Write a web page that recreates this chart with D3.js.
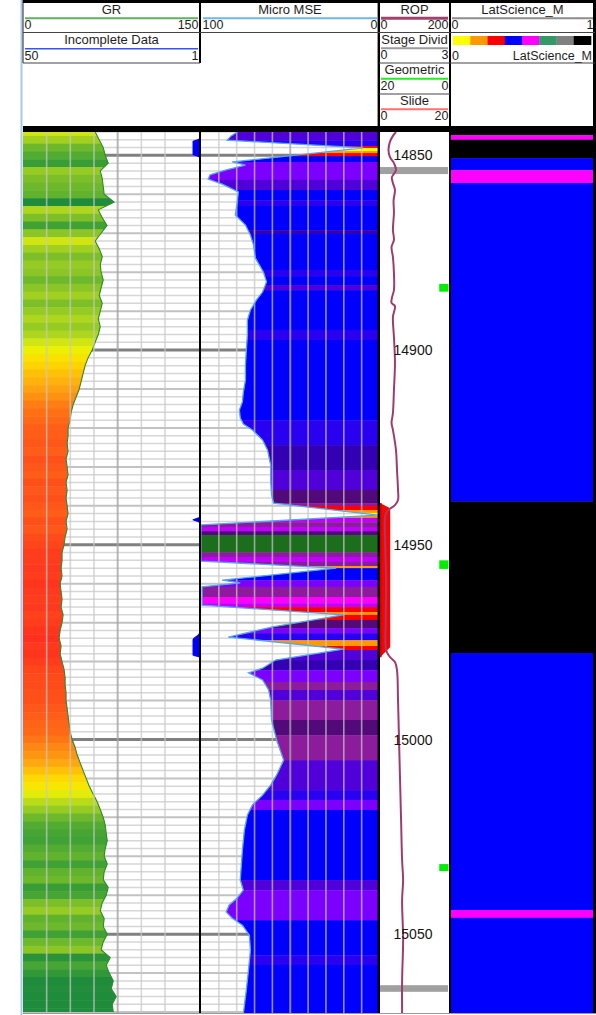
<!DOCTYPE html>
<html>
<head>
<meta charset="utf-8">
<script src="https://cdn.jsdelivr.net/npm/d3@7"></script>
<style>
  html, body { margin: 0; padding: 0; background: #fff; }
  svg { display: block; font-family: "Liberation Sans", Arial, sans-serif; }
</style>
</head>
<body>
<svg id="log" width="596" height="1015"></svg>
<script>
// ---------- depth window ----------
const depthTop = 14844;
const depthBase = 15070.5;
const depthLabels = [14850, 14900, 14950, 15000, 15050];

// ---------- GR (API), sampled every 2 ft from grStart ----------
const grStart = 14844;
const grStep = 2;
const grValues = [61, 64.4, 67.8, 69.5, 72, 65.3, 67, 67.8, 68.6, 77, 63.6, 67, 71, 66, 61, 64.4, 67, 65.3, 66, 67.8,
  66, 64.4, 67, 65.3, 63.6, 65.3, 63.6, 61, 58.5, 55, 52.5, 50.8, 49.2, 47.5, 45, 42.4, 40.7, 39.8, 38.1, 38.1,
  37.3, 38.1, 36.4, 37.3, 38.1, 36.4, 37.3, 36.4, 37.3, 38.1, 36.4, 37.3, 35.6, 34.7, 33, 33, 32.2, 33, 31.4, 32.2,
  33, 32.2, 33.9, 33, 31.4, 30.5, 32.2, 31.4, 33, 34.7, 35.6, 35.6, 36.4, 36.4, 37.3, 38.1, 39, 39.8, 41.5, 44,
  45.8, 48.3, 50.8, 53.4, 56, 59.3, 62.7, 65.3, 67.8, 69.5, 70.3, 71.2, 69.5, 68.6, 71.2, 68.6, 67.8, 72, 70.3, 66.9,
  65.3, 68.6, 67.8, 71.2, 67.8, 66, 73.7, 70.3, 72.9, 76.3, 74.6, 78.8, 75.4, 76.3];

// ---------- Incomplete Data flag ----------
const incDepth = [14844.0, 14845.6, 14846.4, 14849.8, 14850.6, 14942.8, 14943.6, 14944.4, 14972.6, 14974.4, 14978.4, 14979.0, 15070.5];
const incValue = [1, 1, 2.8, 2.8, 1, 1, 2.8, 1, 1, 2.8, 2.8, 1, 1];

// ---------- Micro MSE ----------
const mseDepth = [14844.0, 14845.0, 14846.1, 14848.1, 14851.7, 14852.5, 14853.8, 14855.0, 14856.1, 14857.4,
  14859.4, 14862.0, 14865.3, 14867.9, 14870.5, 14873.0, 14876.4, 14880.0, 14882.5, 14885.1,
  14887.1, 14889.7, 14892.3, 14896.1, 14899.9, 14903.8, 14907.7, 14910.8, 14913.3, 14915.4,
  14917.4, 14919.0, 14920.5, 14923.1, 14925.7, 14929.5, 14933.4, 14937.2, 14939.3, 14942.4,
  14944.9, 14954.2, 14956.0, 14959.1, 14959.8, 14960.8, 14965.5, 14968.0, 14971.1, 14973.7,
  14976.8, 14979.6, 14981.7, 14982.9, 14984.7, 14987.3, 14989.9, 14995.0, 15000.2, 15005.3,
  15009.1, 15011.7, 15014.3, 15016.8, 15019.4, 15023.3, 15028.4, 15032.2, 15036.1, 15038.7,
  15040.7, 15042.5, 15044.3, 15045.9, 15047.7, 15050.3, 15054.1, 15059.2, 15064.3, 15070.5];
const mseValue = [79.7, 83.1, 85.3, 9.0, 82.5, 75.1, 86.4, 94.9, 96.0, 88.1,
  79.1, 79.7, 80.8, 75.1, 72.3, 70.6, 69.5, 65.0, 63.3, 65.5,
  68.9, 72.3, 74.0, 74.0, 74.6, 75.1, 75.1, 76.3, 76.8, 78.5,
  78.0, 76.3, 71.2, 65.5, 62.7, 61.0, 61.0, 60.5, 59.3, 0.6,
  100, 100, 24.3, 88.1, 78.0, 99.4, 99.4, 20.3, 59.9, 84.7,
  20.3, 58.2, 65.5, 73.4, 65.5, 62.1, 61.0, 60.5, 57.6, 53.7,
  57.6, 61.0, 65.5, 71.2, 74.0, 75.7, 76.8, 77.4, 78.0, 76.3,
  79.7, 84.2, 85.9, 82.5, 76.8, 72.9, 72.3, 73.4, 74.6, 76.3];

// MSE colour classes by depth interval (top of each interval)
const mseBandTop = [14844.0, 14846.1, 14847.6, 14848.1, 14848.9, 14849.4, 14850.2, 14851.7, 14856.3, 14858.9,
  14861.5, 14863.0, 14869.2, 14870.2, 14879.4, 14881.0, 14883.3, 14884.6, 14894.8, 14897.4,
  14918.0, 14924.4, 14930.8, 14935.9, 14939.3, 14940.0, 14941.1, 14941.8, 14942.6, 14943.1,
  14944.2, 14945.4, 14946.5, 14947.5, 14951.9, 14953.1, 14954.4, 14955.5, 14956.0, 14959.1,
  14960.8, 14963.4, 14965.0, 14966.0, 14967.3, 14968.0, 14969.3, 14971.4, 14972.7, 14974.5,
  14976.0, 14977.0, 14979.6, 14982.2, 14985.2, 14987.3, 14989.9, 14995.0, 14998.9, 15005.3,
  15013.0, 15015.5, 15018.1, 15036.1, 15038.7, 15046.4, 15055.4, 15057.9];
const mseBandCode = ["I", "N", "R", "Y", "O", "R", "B", "V", "I", "B",
  "N", "B", "K", "B", "N", "B", "I", "B", "N", "B",
  "N", "K", "I", "D", "P", "R", "O", "Y", "O", "L",
  "P", "L", "D", "G", "P", "L", "P", "O", "B", "V",
  "P", "M", "L", "R", "O", "R", "D", "V", "N", "O",
  "R", "I", "K", "V", "P", "I", "P", "D", "P", "I",
  "N", "V", "B", "I", "V", "B", "N", "B"];
const mseClasses = ["B", "N", "I", "K", "V", "P", "L", "M", "R", "O", "Y", "G", "D"];

// ---------- ROP (ft/hr) ----------
const ropDepth = [14844.0, 14845.0, 14846.6, 14848.6, 14850.4, 14852.0, 14853.8, 14855.6, 14857.1, 14858.9,
  14861.5, 14864.8, 14869.2, 14871.7, 14873.5, 14876.1, 14880.2, 14884.6, 14886.6, 14887.9,
  14888.7, 14891.5, 14896.6, 14903.3, 14910.3, 14916.2, 14918.7, 14920.5, 14925.7, 14930.8,
  14935.9, 14938.5, 14939.8, 14941.1, 14942.4, 14948.8, 14959.1, 14969.3, 14977.0, 14978.8,
  14980.1, 14982.2, 14989.9, 15000.2, 15010.4, 15020.7, 15031.0, 15036.1, 15041.2, 15051.5,
  15061.8, 15070.5];
const ropValue = [47, 38, 29, 25, 29, 41, 47, 35, 38, 44,
  40, 41, 38, 41, 34, 38, 41, 41, 35, 34,
  44, 38, 41, 44, 41, 38, 34, 38, 47, 50,
  53, 53, 44, 24, 16, 15, 18, 17, 18, 29,
  44, 50, 53, 56, 59, 62, 65, 68, 65, 68,
  65, 65];

// ---------- Stage divider, Geometric, Slide ----------
const stageTop = [14853.0, 15063.1];
const stageBase = [14854.8, 15064.8];
const stageValue = [3, 3];

const geoTop = [14883.0, 14954.0, 15032.0];
const geoBase = [14885.0, 14956.2, 15033.8];
const geoValue = [2.7, 2.7, 2.7];

const slideDepth = [14939.3, 14940.6, 14976.3, 14978.9];
const slideValue = [0, 3, 3, 0];

// ---------- LatScience_M classes ----------
const latTop = [14844.0, 14844.8, 14846.0, 14850.7, 14853.8, 14857.1, 14938.9, 14977.8, 15043.8, 15045.8];
const latCode = [7, 4, 7, 3, 4, 3, 7, 3, 4, 3];
const latClasses = [0, 1, 2, 3, 4, 5, 6, 7];

// ---------- scales ----------
const y = d3.scaleLinear().domain([depthTop, depthBase]).range([132, 1014]);
const xGR = d3.scaleLinear().domain([0, 150]).range([23, 200.5]);
const xInc = d3.scaleLinear().domain([50, 1]).range([23, 199]);
const xMSE = d3.scaleLinear().domain([100, 0]).range([201, 379.5]);
const xROP = d3.scaleLinear().domain([0, 200]).range([380, 448]);
const xStage = d3.scaleLinear().domain([0, 3]).range([380, 448]);
const xGeo = d3.scaleLinear().domain([20, 0]).range([380, 448.5]);
const xSlide = d3.scaleLinear().domain([0, 20]).range([380, 448]);
const xLat = d3.scaleLinear().domain([0, 1]).range([451, 593]);

const grColor = d3.scaleLinear()
  .domain([30, 36, 42, 48, 53, 58, 62, 66, 70, 75])
  .range(["#ff2d1e", "#ff4d1a", "#ff7a14", "#ffa510", "#ffd700", "#f2f200", "#c4e018", "#8cc626", "#4aa832", "#1f8c3c"])
  .clamp(true);
const mseColor = d3.scaleOrdinal().domain(mseClasses)
  .range(["#0000ff", "#2a00f0", "#5000d8", "#3400b4", "#7c00ff", "#8c1c9c", "#bf00ff", "#ff00ff", "#ff0000", "#ff9900", "#ffff00", "#1c6e1c", "#520a7a"]);
const latColor = d3.scaleOrdinal().domain(latClasses)
  .range(["#ffff00", "#ff9900", "#ff0000", "#0000ff", "#ff00ff", "#339966", "#808080", "#000000"]);

const svg = d3.select("#log");
const defs = svg.append("defs");
const dataY0 = 132, dataY1 = 1013;

function clipRect(id, x0, x1) {
  defs.append("clipPath").attr("id", id).append("rect")
    .attr("x", x0).attr("y", dataY0).attr("width", x1 - x0).attr("height", dataY1 - dataY0);
  return "url(#" + id + ")";
}

// window edge
svg.append("line").attr("x1", 21.5).attr("x2", 21.5).attr("y1", 0).attr("y2", 1015)
  .attr("stroke", "#a9c9ec").attr("stroke-width", 2);

// ---------- grid helper ----------
const gridDepths = d3.range(depthTop, depthBase, 2);
function hGrid(g, x0, x1) {
  g.selectAll(null).data(gridDepths).join("line")
    .attr("x1", x0).attr("x2", x1)
    .attr("y1", d => y(d)).attr("y2", d => y(d))
    .attr("stroke", d => d % 50 === 0 ? "#808080" : d % 10 === 0 ? "#c2c2c2" : "#d6d6d6")
    .attr("stroke-width", d => d % 50 === 0 ? 3 : d % 10 === 0 ? 2 : 1.5);
}
function vGrid(g, scale, count) {
  const t = scale.ticks(count).slice(1, -1);
  g.selectAll(null).data(t).join("line")
    .attr("x1", d => scale(d)).attr("x2", d => scale(d))
    .attr("y1", dataY0).attr("y2", dataY1)
    .attr("stroke", (d, i) => i === Math.floor(t.length / 2) ? "rgba(165,165,165,0.8)" : "rgba(200,200,200,0.72)")
    .attr("stroke-width", (d, i) => i === Math.floor(t.length / 2) ? 2 : 1.6);
}

// ---------- GR track ----------
const gGR = svg.append("g").attr("clip-path", clipRect("clipGR", 23, 199));
hGrid(gGR, 23, 200);
const grDepth = grValues.map((v, i) => grStart + i * grStep);
const grPts = grValues.map((v, i) => [grDepth[i], v]);
const grArea = d3.area().y(d => y(d[0])).x0(xGR(0)).x1(d => xGR(d[1]));
defs.append("clipPath").attr("id", "grFill").append("path").attr("d", grArea(grPts));
const gGRFill = gGR.append("g").attr("clip-path", "url(#grFill)");
gGRFill.selectAll(null).data(grPts).join("rect")
  .attr("x", 23).attr("width", 177)
  .attr("y", d => y(d[0] - grStep / 2)).attr("height", d => y(d[0] + grStep / 2) - y(d[0] - grStep / 2) + 0.5)
  .attr("fill", d => grColor(d[1]));
gGR.append("path").attr("d", d3.line().y(d => y(d[0])).x(d => xGR(d[1]))(grPts))
  .attr("fill", "none").attr("stroke", "#2c8a2c").attr("stroke-width", 1.1);
vGrid(gGR, xGR, 10);

// Incomplete data flag
const incPts = incDepth.map((d, i) => [d, incValue[i]]);
gGR.append("path")
  .attr("d", d3.area().y(d => y(d[0])).x0(xInc(1)).x1(d => xInc(d[1])).curve(d3.curveMonotoneY)(incPts))
  .attr("fill", "#0000ff");

// ---------- Micro MSE track ----------
const gMSE = svg.append("g").attr("clip-path", clipRect("clipMSE", 201, 378));
hGrid(gMSE, 201, 378);
const msePts = mseDepth.map((d, i) => [d, mseValue[i]]);
const mseArea = d3.area().y(d => y(d[0])).x0(d => xMSE(d[1])).x1(xMSE(0));
defs.append("clipPath").attr("id", "mseFill").append("path").attr("d", mseArea(msePts));
const gMSEFill = gMSE.append("g").attr("clip-path", "url(#mseFill)");
gMSEFill.selectAll(null).data(mseBandTop).join("rect")
  .attr("x", 201).attr("width", 178)
  .attr("y", d => y(d))
  .attr("height", (d, i) => y(i + 1 < mseBandTop.length ? mseBandTop[i + 1] : depthBase) - y(d) + 0.4)
  .attr("fill", (d, i) => mseColor(mseBandCode[i]));
vGrid(gMSE, xMSE, 10);
gMSE.append("path").attr("d", d3.line().y(d => y(d[0])).x(d => xMSE(d[1]))(msePts))
  .attr("fill", "none").attr("stroke", "#52a6f2").attr("stroke-width", 1.3);

// ---------- depth track ----------
const gDep = svg.append("g").attr("clip-path", clipRect("clipDep", 380, 449));
const slidePts = slideDepth.map((d, i) => [d, slideValue[i]]);
gDep.append("path")
  .attr("d", d3.area().y(d => y(d[0])).x0(xSlide(0)).x1(d => xSlide(d[1]))(slidePts))
  .attr("fill", "#ff0000");
gDep.append("line")
  .attr("x1", xSlide(0) + 0.8).attr("x2", xSlide(0) + 0.8)
  .attr("y1", y(slideDepth[0])).attr("y2", y(slideDepth[slideDepth.length - 1]))
  .attr("stroke", "#d40000").attr("stroke-width", 1.6);
gDep.selectAll(null).data(stageTop).join("rect")
  .attr("x", xStage(0)).attr("width", (d, i) => xStage(stageValue[i]) - xStage(0))
  .attr("y", d => y(d)).attr("height", (d, i) => y(stageBase[i]) - y(d))
  .attr("fill", "#a0a0a0");
gDep.selectAll(null).data(geoTop).join("rect")
  .attr("x", (d, i) => xGeo(geoValue[i])).attr("width", (d, i) => xGeo(0) - xGeo(geoValue[i]))
  .attr("y", d => y(d)).attr("height", (d, i) => y(geoBase[i]) - y(d))
  .attr("fill", "#00ee00");
const ropPts = ropDepth.map((d, i) => [d, ropValue[i]]);
gDep.append("path")
  .attr("d", d3.line().y(d => y(d[0])).x(d => xROP(d[1])).curve(d3.curveCatmullRom)(ropPts))
  .attr("fill", "none").attr("stroke", "#9e3d6c").attr("stroke-width", 2);
gDep.selectAll(null).data(depthLabels).join("text")
  .attr("x", 413).attr("y", d => y(d)).attr("dy", "0.36em")
  .attr("text-anchor", "middle").attr("font-size", 14).attr("fill", "#141414")
  .text(d => d);

// ---------- LatScience_M track ----------
const gLat = svg.append("g").attr("clip-path", clipRect("clipLat", 451, 593));
gLat.selectAll(null).data(latTop).join("rect")
  .attr("x", xLat(0)).attr("width", xLat(1) - xLat(0))
  .attr("y", d => y(d))
  .attr("height", (d, i) => y(i + 1 < latTop.length ? latTop[i + 1] : depthBase) - y(d) + 0.3)
  .attr("fill", (d, i) => latColor(latCode[i]));

// ---------- track borders ----------
svg.append("rect").attr("x", 23).attr("y", 126).attr("width", 573).attr("height", 6).attr("fill", "#000");
[[200, 2, 0, 63], [200, 2, 126, 1013], [378.8, 2.4, 0, 1013], [450, 2, 0, 1013], [594.5, 3, 0, 1013]]
  .forEach(([x, w, y0, y1]) => svg.append("line").attr("x1", x).attr("x2", x).attr("y1", y0).attr("y2", y1)
    .attr("stroke", "#000").attr("stroke-width", w));
svg.append("line").attr("x1", 23).attr("x2", 23).attr("y1", 0).attr("y2", 63).attr("stroke", "#444").attr("stroke-width", 1.2);
svg.append("line").attr("x1", 23).attr("x2", 596).attr("y1", 1013.5).attr("y2", 1013.5).attr("stroke", "#999").attr("stroke-width", 1);

// ---------- header ----------
const hdr = svg.append("g").attr("font-size", 12.5).attr("fill", "#1e1e1e");
hdr.append("rect").attr("x", 23).attr("y", 0).attr("width", 573).attr("height", 3).attr("fill", "#000");

function headerCell(x0, x1, top, title, color, lw, scale) {
  const [a, b] = scale.domain();
  hdr.append("line").attr("x1", x0 + 2).attr("x2", x1 - 2).attr("y1", top + 15.2).attr("y2", top + 15.2)
    .attr("stroke", color).attr("stroke-width", lw);
  hdr.append("text").attr("x", (x0 + x1) / 2).attr("y", top + 10.8).attr("text-anchor", "middle")
    .attr("font-size", 13).text(title);
  hdr.append("text").attr("x", x0 + 1.5).attr("y", top + 26).text(a);
  hdr.append("text").attr("x", x1 - 1.5).attr("y", top + 26).attr("text-anchor", "end").text(b);
}
function sep(x0, x1, yy) {
  hdr.append("line").attr("x1", x0).attr("x2", x1).attr("y1", yy).attr("y2", yy)
    .attr("stroke", "#444").attr("stroke-width", 1.2);
}

headerCell(23, 200, 3, "GR", "#5fb05f", 2, xGR);
sep(23, 200, 32.5);
headerCell(23, 200, 33.5, "Incomplete Data", "#3355ff", 1.6, xInc);
sep(23, 200, 63);

headerCell(201, 379, 3, "Micro MSE", "#72b4f0", 2, xMSE);
sep(200, 379, 32.5);

headerCell(379, 450, 3, "ROP", "#a0426e", 3, xROP);
sep(379, 450, 32.5);
headerCell(379, 450, 33, "Stage Divid", "#9a9a9a", 2, xStage);
sep(379, 450, 63);
headerCell(379, 450, 63.5, "Geometric", "#22ee22", 2, xGeo);
sep(379, 450, 94);
headerCell(379, 450, 94, "Slide", "#ff7070", 2, xSlide);

headerCell(450, 595, 3, "LatScience_M", "#8c8c8c", 2, xLat);
sep(450, 595, 32.5);
const barScale = d3.scaleBand().domain(latClasses).range([453, 591]);
hdr.selectAll(null).data(latClasses).join("rect")
  .attr("x", d => barScale(d)).attr("width", barScale.bandwidth() + 0.3)
  .attr("y", 36).attr("height", 9)
  .attr("fill", d => latColor(d));
hdr.append("text").attr("x", 452).attr("y", 59.5).text(0);
hdr.append("text").attr("x", 592).attr("y", 59.5).attr("text-anchor", "end").text("LatScience_M");
sep(450, 595, 63);
</script>
</body>
</html>
